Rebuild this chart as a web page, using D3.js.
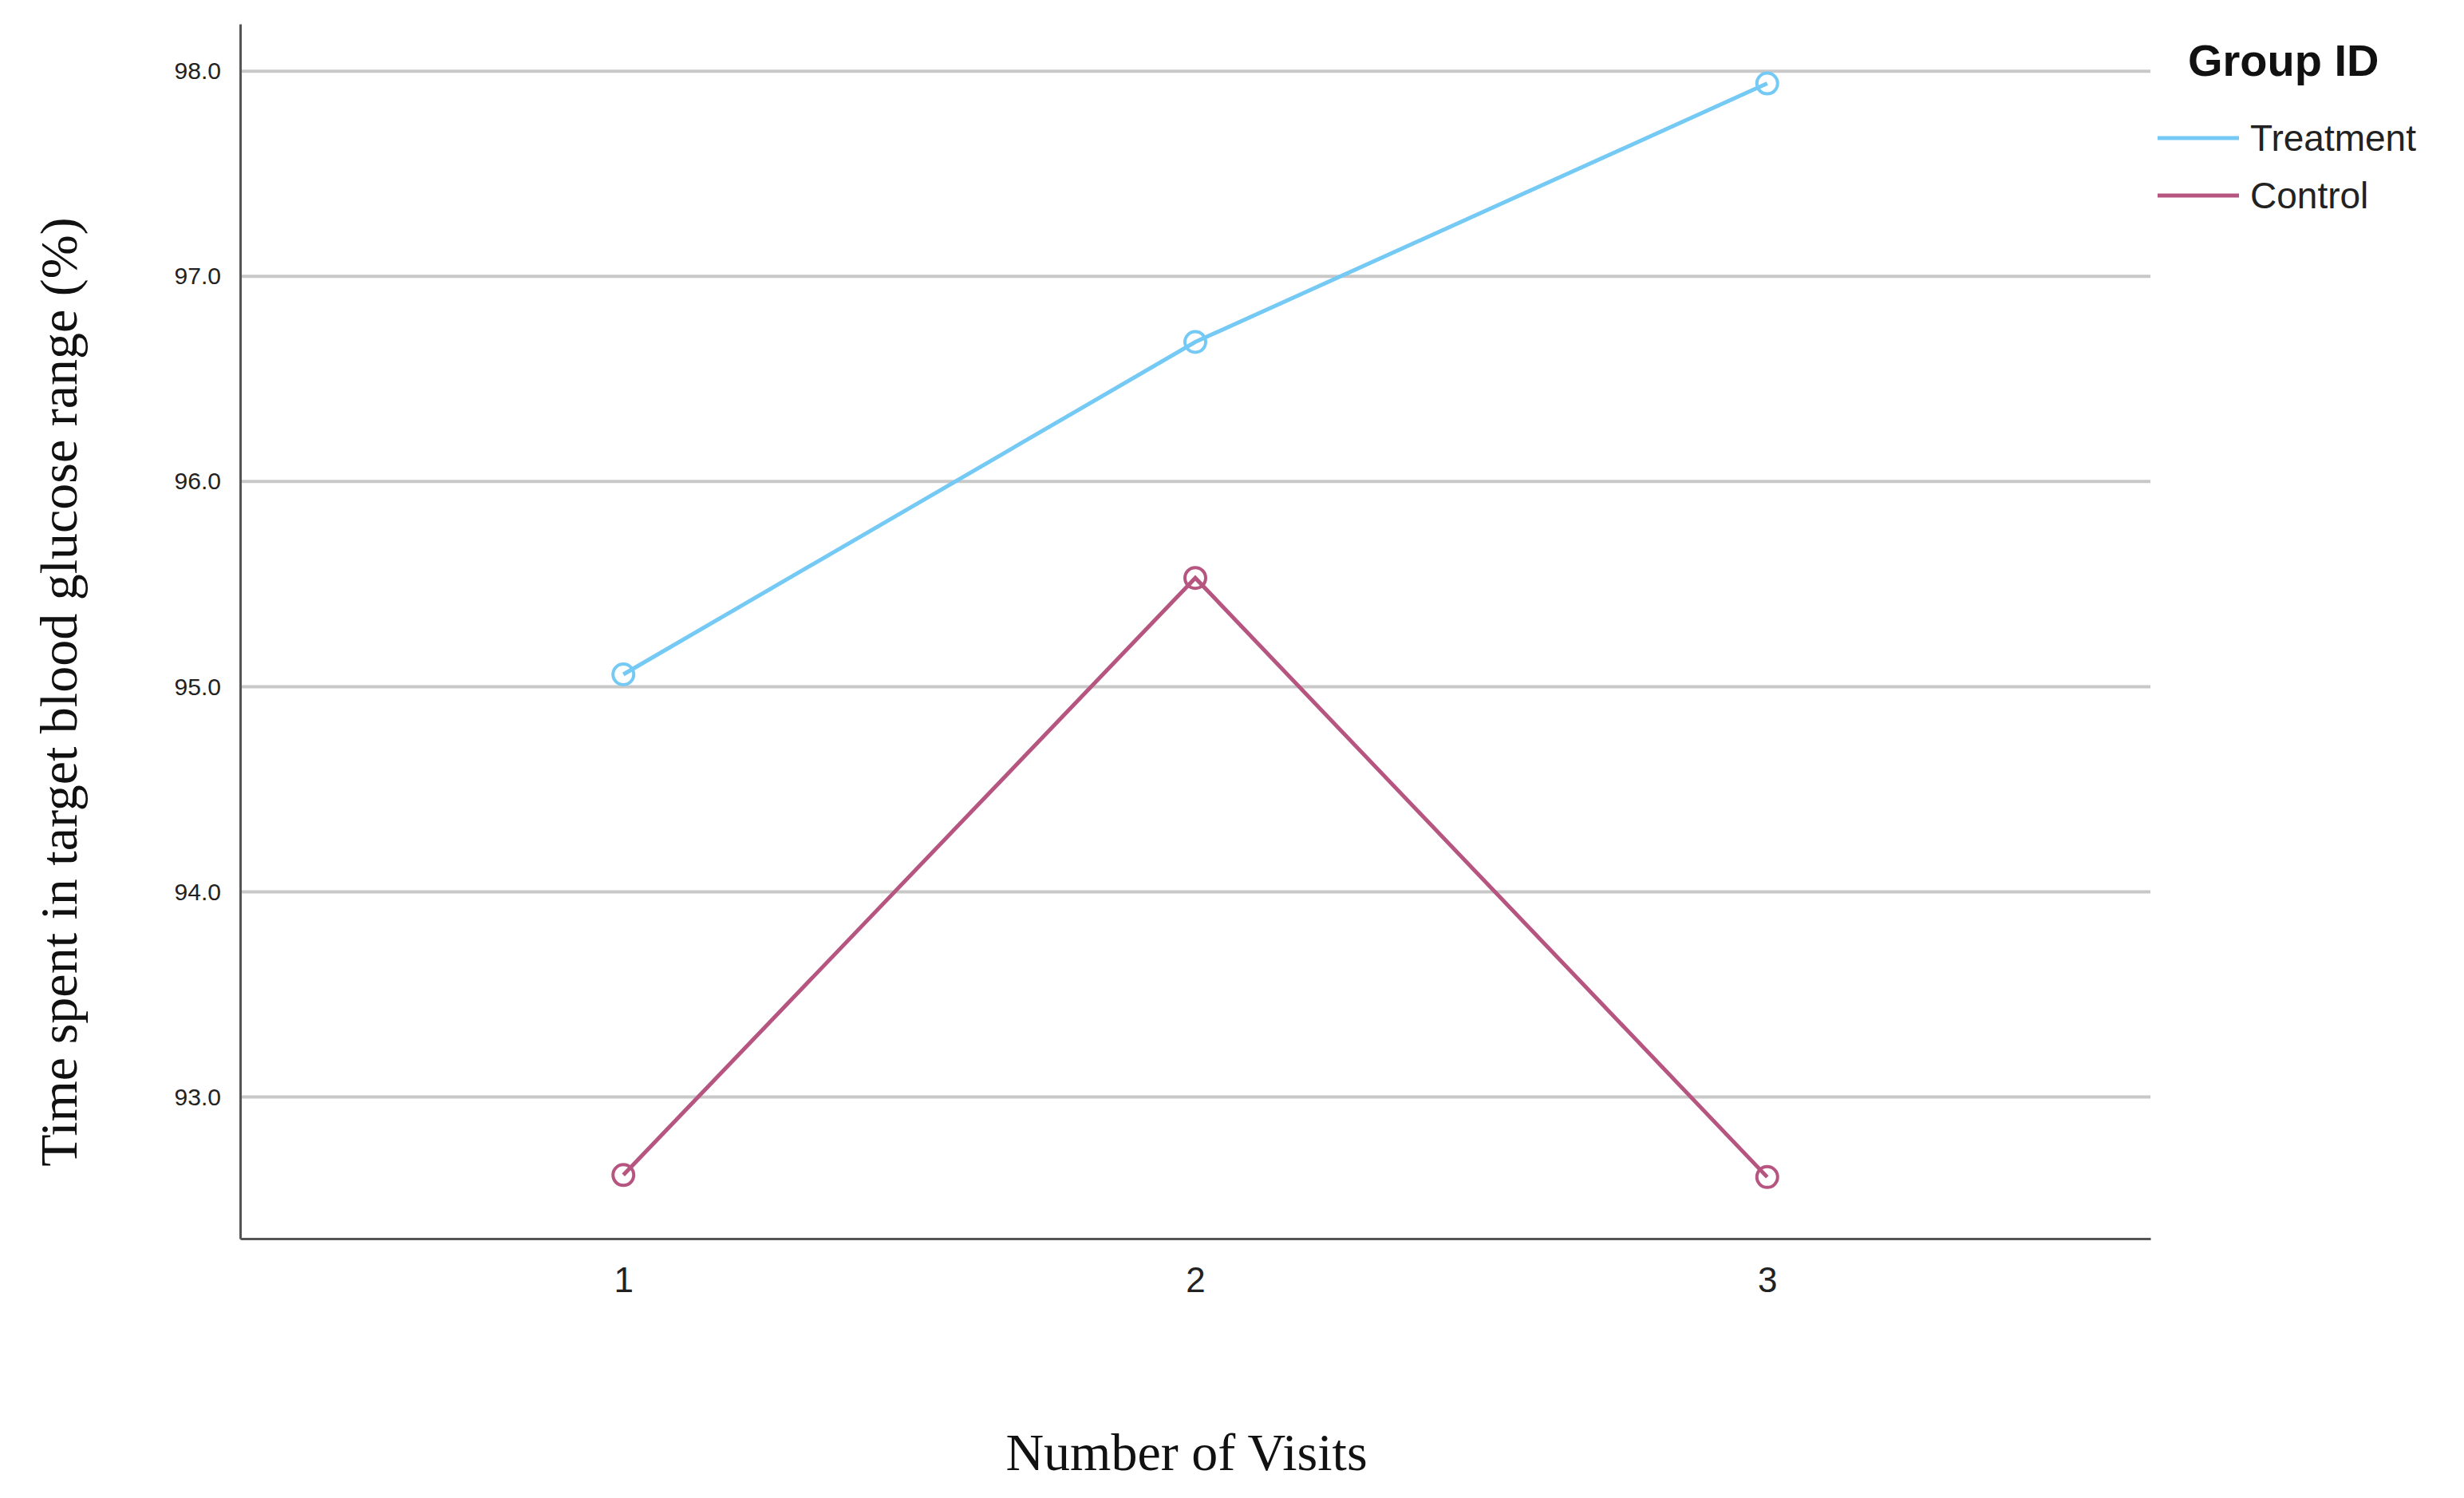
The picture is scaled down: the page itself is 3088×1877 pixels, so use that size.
<!DOCTYPE html>
<html><head><meta charset="utf-8">
<script src="https://cdn.jsdelivr.net/npm/d3@7"></script>
<style>body{margin:0;background:#fff}</style>
</head><body>
<svg id="chart" width="3088" height="1877"></svg>
<script>
const visits = [1, 2, 3];
const treatment = [95.06, 96.68, 97.94];
const control = [92.62, 95.53, 92.61];
const yTicks = [93, 94, 95, 96, 97, 98];
const seriesNames = ['Treatment', 'Control'];
const colors = ['#74c9f5', '#b65580'];

const svg = d3.select('#chart');
const plotL = 301, plotR = 2695, plotT = 30, plotB = 1552;
const x = d3.scaleLinear().domain([0.33, 3.67]).range([plotL, plotR]);
const y = d3.scaleLinear().domain([92.31, 98.23]).range([plotB, plotT]);

// gridlines
svg.append('g').selectAll('line').data(yTicks).join('line')
  .attr('x1', plotL).attr('x2', plotR)
  .attr('y1', d => y(d)).attr('y2', d => y(d))
  .attr('stroke', '#c8c8c8').attr('stroke-width', 4);

// axes
const yAxis = svg.append('g').attr('transform', `translate(${plotL},0)`)
  .call(d3.axisLeft(y).tickValues(yTicks).tickSize(0).tickPadding(24));
yAxis.select('.domain').attr('stroke', '#555').attr('stroke-width', 3);
yAxis.selectAll('text').attr('font-family', 'Arial, Liberation Sans, sans-serif')
  .attr('font-size', 30).attr('fill', '#222');

const xAxis = svg.append('g').attr('transform', `translate(0,${plotB})`)
  .call(d3.axisBottom(x).tickValues(visits).tickSize(0).tickPadding(36).tickFormat(d3.format('d')));
xAxis.select('.domain').attr('stroke', '#555').attr('stroke-width', 3);
xAxis.selectAll('text').attr('font-family', 'Arial, Liberation Sans, sans-serif')
  .attr('font-size', 44).attr('fill', '#222');

// series
[treatment, control].forEach((vals, i) => {
  const pts = vals.map((v, j) => [visits[j], v]);
  svg.append('path').datum(pts)
    .attr('d', d3.line().x(d => x(d[0])).y(d => y(d[1])))
    .attr('fill', 'none').attr('stroke', colors[i]).attr('stroke-width', 5);
  svg.append('g').selectAll('circle').data(pts).join('circle')
    .attr('cx', d => x(d[0])).attr('cy', d => y(d[1])).attr('r', 13)
    .attr('fill', 'none').attr('stroke', colors[i]).attr('stroke-width', 4);
});

// titles
svg.append('text').attr('x', 1487).attr('y', 1842).attr('text-anchor', 'middle')
  .attr('font-family', 'Liberation Serif, serif').attr('font-size', 66).attr('fill', '#111')
  .text('Number of Visits');
svg.append('text').attr('transform', 'translate(96,867) rotate(-90)').attr('text-anchor', 'middle')
  .attr('font-family', 'Liberation Serif, serif').attr('font-size', 66).attr('fill', '#111')
  .text('Time spent in target blood glucose range (%)');

// legend
svg.append('text').attr('x', 2742).attr('y', 95)
  .attr('font-family', 'Arial, Liberation Sans, sans-serif').attr('font-weight', 'bold')
  .attr('font-size', 56).attr('fill', '#111').text('Group ID');
seriesNames.forEach((n, i) => {
  const ly = 173 + i * 72;
  svg.append('line').attr('x1', 2704).attr('x2', 2806).attr('y1', ly).attr('y2', ly)
    .attr('stroke', colors[i]).attr('stroke-width', 5);
  svg.append('text').attr('x', 2820).attr('y', ly + 16)
    .attr('font-family', 'Arial, Liberation Sans, sans-serif').attr('font-size', 46)
    .attr('fill', '#222').text(n);
});
</script>
</body></html>
